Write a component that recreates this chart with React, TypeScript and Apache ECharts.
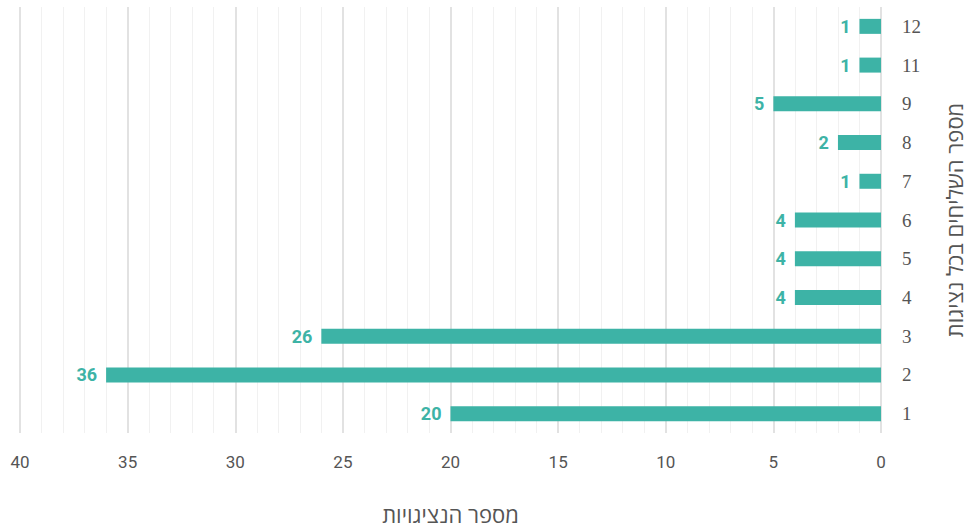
import React, { useEffect, useRef } from "react";
import * as echarts from "echarts";

const categories = ["1", "2", "3", "4", "5", "6", "7", "8", "9", "11", "12"];
const values = [20, 36, 26, 4, 4, 4, 1, 2, 5, 1, 1];
const xAxisName = "מספר הנציגויות";
const yAxisName = "מספר השליחים בכל נציגות";

const TEAL = "#3db3a6";

export default function App() {
  const ref = useRef<HTMLDivElement>(null);
  useEffect(() => {
    if (!ref.current) return;
    const chart = echarts.init(ref.current, undefined, { renderer: "svg" });
    chart.setOption({
      animation: false,
      backgroundColor: "#ffffff",
      grid: { left: 20, right: 87, top: 7, bottom: 95, outerBoundsMode: "none", containLabel: false },
      xAxis: {
        type: "value",
        inverse: true,
        min: 0,
        max: 40,
        interval: 5,
        axisLine: { show: false },
        axisTick: { show: false },
        axisLabel: {
          color: "#555",
          fontSize: 17,
          margin: 20,
          fontFamily: "Roboto, 'Noto Sans', sans-serif",
        },
        splitLine: { show: true, lineStyle: { color: "#d9d9d9", width: 1.5 } },
        minorTick: { show: false, splitNumber: 5 },
        minorSplitLine: { show: true, lineStyle: { color: "#f1f1f1", width: 1 } },
        name: xAxisName,
        nameLocation: "middle",
        nameGap: 70,
        nameTextStyle: {
          color: "#555",
          fontSize: 22,
          lineHeight: 22,
          fontFamily: "'Noto Sans', 'Open Sans', sans-serif",
        },
      },
      yAxis: {
        type: "category",
        position: "right",
        data: categories,
        axisLine: { show: false },
        axisTick: { show: false },
        axisLabel: {
          color: "#555",
          fontSize: 19,
          margin: 21,
          align: "left",
          fontFamily: "'Liberation Serif', 'DejaVu Serif', serif",
        },
        splitLine: { show: false },
        name: yAxisName,
        nameLocation: "middle",
        nameRotate: 90,
        nameGap: 62,
        nameTextStyle: {
          color: "#555",
          fontSize: 22,
          lineHeight: 22,
          fontFamily: "'Noto Sans', 'Open Sans', sans-serif",
        },
      },
      series: [
        {
          type: "bar",
          data: values,
          barWidth: 15,
          itemStyle: { color: TEAL },
          label: {
            show: true,
            position: "left",
            distance: 9,
            color: TEAL,
            fontSize: 18,
            fontWeight: "bold",
            fontFamily: "Roboto, 'Noto Sans', sans-serif",
          },
        },
      ],
    });
    return () => chart.dispose();
  }, []);
  return (
    <div
      ref={ref}
      style={{ position: "fixed", left: 0, top: 0, width: 968, height: 528 }}
    />
  );
}
